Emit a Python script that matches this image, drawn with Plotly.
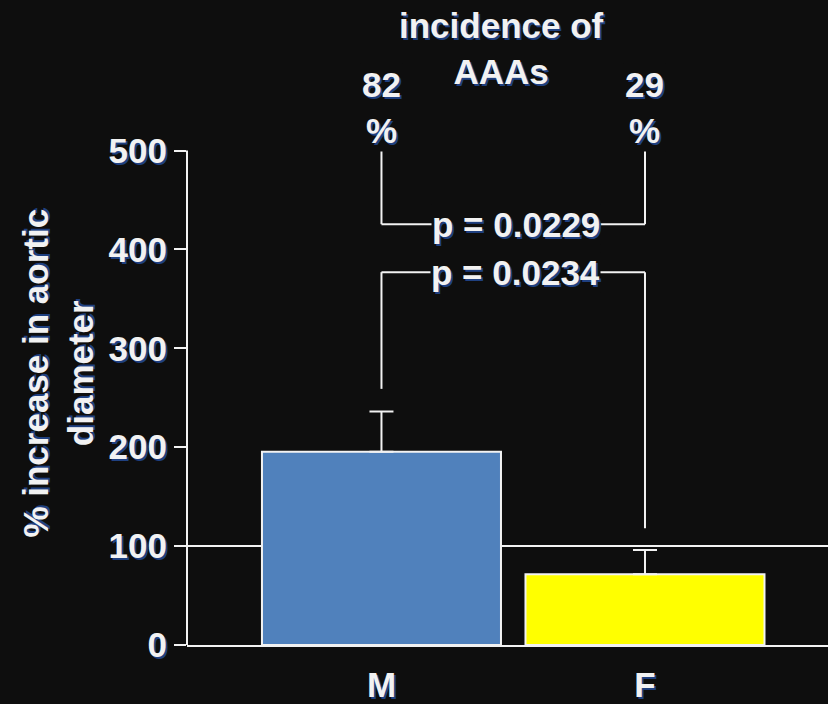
import plotly.graph_objects as go

categories = ["M", "F"]
means = [195.5, 71.5]
sem = [40.5, 24.5]
bar_colors = ["#5081BC", "#FFFF00"]
y_ticks = [0, 100, 200, 300, 400, 500]
incidence = ["82<br>%", "29<br>%"]
p_values = ["p = 0.0229", "p = 0.0234"]

BG = "#0E0E0E"
FG = "#F2F2F2"
SHADOW = "2px 2px 0px #1F4080"
FONT = "Liberation Sans, Arial, sans-serif"
FS = 35

fig = go.Figure()
fig.add_trace(go.Bar(
    x=categories, y=means, width=0.907,
    marker=dict(color=bar_colors, line=dict(color=FG, width=2)),
    error_y=dict(type="data", array=sem, symmetric=False, arrayminus=[0, 0],
                 color=FG, thickness=2, width=12),
    showlegend=False, hoverinfo="skip",
))

shapes = []
# reference line at 100 %
shapes.append(dict(type="line", xref="paper", x0=0, x1=1, yref="y", y0=100, y1=100,
                   line=dict(color=FG, width=2), layer="below"))
# y axis line 0..500
shapes.append(dict(type="line", xref="paper", x0=0, x1=0, yref="y", y0=0, y1=500,
                   line=dict(color=FG, width=2)))
# bracket for incidence p-value
lw = dict(color=FG, width=2)
shapes.append(dict(type="line", x0=0, x1=0, y0=511, y1=425.5, line=lw))
shapes.append(dict(type="line", x0=0, x1=1, y0=425.5, y1=425.5, line=lw))
shapes.append(dict(type="line", x0=1, x1=1, y0=425.5, y1=511, line=lw))
# bracket for diameter p-value
shapes.append(dict(type="line", x0=0, x1=0, y0=259, y1=377, line=lw))
shapes.append(dict(type="line", x0=0, x1=1, y0=377, y1=377, line=lw))
shapes.append(dict(type="line", x0=1, x1=1, y0=377, y1=118, line=lw))

txt = dict(family=FONT, size=FS, color=FG, weight="bold", shadow=SHADOW)
annotations = []
for i, lab in enumerate(incidence):
    annotations.append(dict(x=i, y=543, xref="x", yref="y", text=lab, showarrow=False,
                            font=txt, xanchor="center", yanchor="middle", bgcolor=BG))
annotations.append(dict(x=0.457, y=603, xref="x", yref="y", text="incidence of<br>AAAs",
                        showarrow=False, font=txt, xanchor="center", yanchor="middle"))
for yv, p in zip([425.5, 377], p_values):
    annotations.append(dict(x=0.51, y=yv, xref="x", yref="y", text=p, showarrow=False,
                            font=txt, xanchor="center", yanchor="middle", bgcolor=BG,
                            borderpad=0))
annotations.append(dict(x=-0.2, y=0.422, xref="paper", yref="paper",
                        text="% increase in aortic<br>diameter", textangle=-90,
                        showarrow=False, font=txt, xanchor="center", yanchor="middle"))

fig.update_layout(
    width=828, height=704,
    margin=dict(l=187, r=0, t=0, b=57),
    paper_bgcolor=BG, plot_bgcolor=BG,
    shapes=shapes, annotations=annotations,
    xaxis=dict(type="category", range=[-0.738, 1.6945], showline=True, linecolor=FG,
               linewidth=2, ticks="", showgrid=False, zeroline=False,
               tickfont=txt, fixedrange=True, ticklabelstandoff=8),
    yaxis=dict(range=[0, 652.2], tickvals=y_ticks, ticks="outside", ticklen=12,
               tickwidth=2, tickcolor=FG, showline=False, showgrid=False,
               zeroline=False, tickfont=txt, fixedrange=True),
)

fig.write_html("out.html", config={"displayModeBar": False},
               post_script="document.body.style.margin='0px';document.body.style.background='#0E0E0E';")
